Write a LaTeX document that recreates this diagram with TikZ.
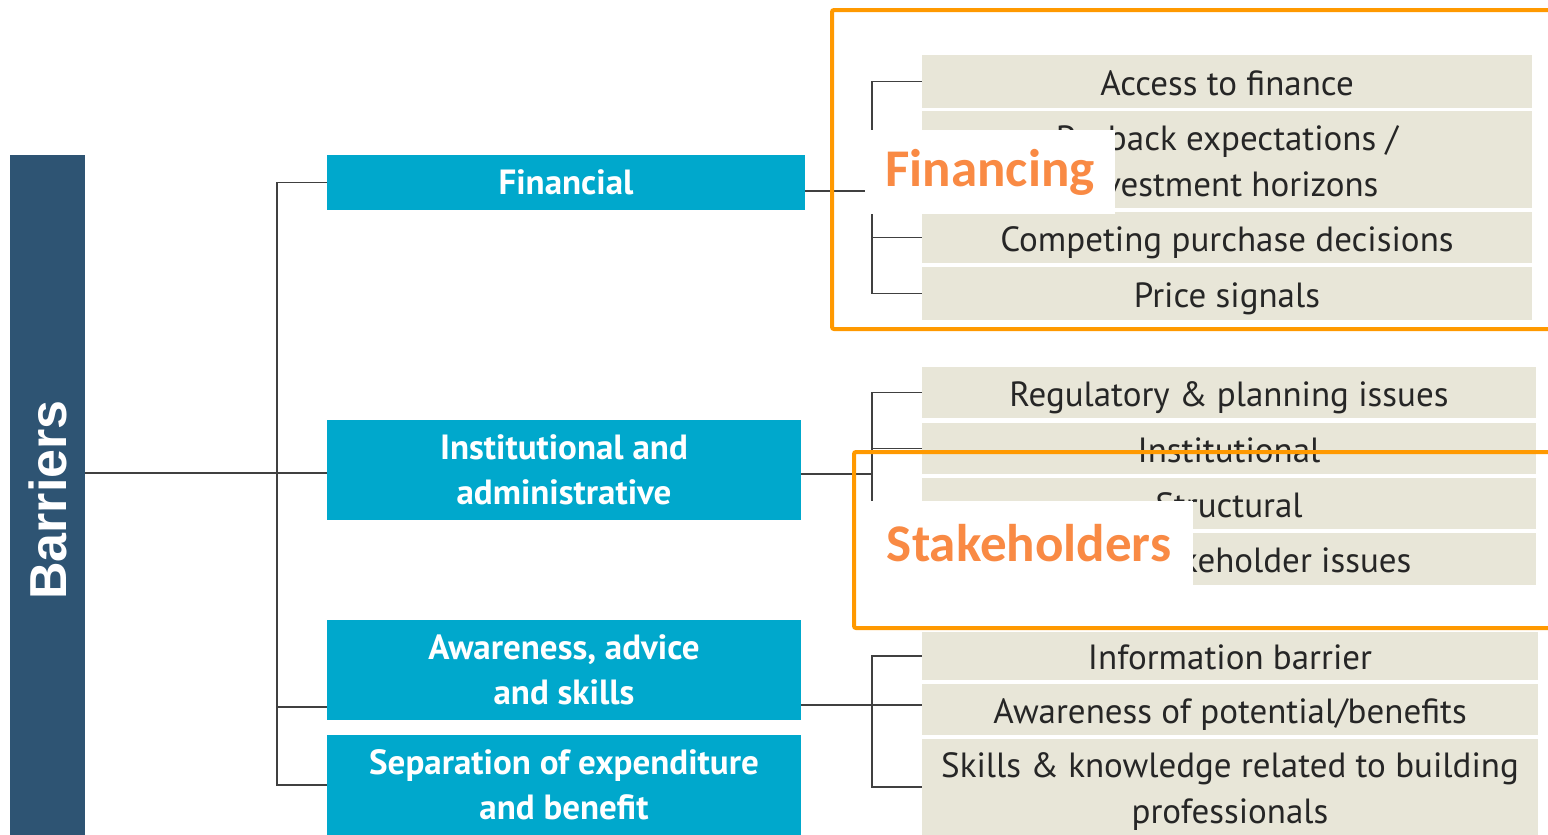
\documentclass[tikz,border=0pt]{standalone}
\usepackage{fontspec}
\usepackage{graphicx}
\newfontfamily\boxfont{PT Sans}
\newfontfamily\barfont{Liberation Sans}
\newfontfamily\tagfont{Carlito}
\definecolor{barblue}{HTML}{2E5473}
\definecolor{catcyan}{HTML}{00A8CC}
\definecolor{itembeige}{HTML}{E8E6D8}
\definecolor{frameorange}{HTML}{FF9900}
\definecolor{tagorange}{HTML}{F98A44}

\begin{document}
\begin{tikzpicture}[
  x=1pt, y=-1pt,
  barbox/.style={rectangle, fill=barblue, text=white, inner sep=0pt,
    minimum width=75pt, minimum height=690pt,
    font=\barfont\bfseries\fontsize{52}{60}\selectfont},
  catbox/.style={rectangle, fill=catcyan, text=white, inner sep=0pt, align=center,
    minimum width=474pt, minimum height=100pt,
    font=\boxfont\bfseries\fontsize{35}{45}\selectfont},
  itembase/.style={rectangle, fill=itembeige, text=black!85, inner sep=0pt, align=center,
    minimum width=610pt, minimum height=51pt,
    font=\boxfont\fontsize{35}{46}\selectfont},
  itembox/.style={itembase, text height=27pt, text depth=0pt},
  itembox2/.style={itembase, text height=73pt, text depth=0pt},
  link/.style={draw=black!75, line width=1.6pt},
  frame/.style={draw=frameorange, line width=4pt, rounded corners=2pt},
  tag/.style={rectangle, fill=white, text=tagorange, inner sep=0pt,
    minimum height=84pt, font=\tagfont\bfseries\fontsize{53}{60}\selectfont}
]
  \clip (0,0) rectangle (1548,835);

  \node[barbox] (bar) at (47.5,500) {\rotatebox{90}{Barriers}};

  \node[catbox, minimum width=478pt, minimum height=55pt] (fin) at (566,182.5) {Financial};
  \node[catbox] (inst)  at (564,470) {Institutional and\\administrative};
  \node[catbox] (aware) at (564,670) {Awareness, advice\\and skills};
  \node[catbox] (sep)   at (564,785) {Separation of expenditure\\and benefit};

  % financing items
  \node[itembox, minimum height=53pt]  (acc)   at (1227,81.5)  {Access to finance};
  \node[itembox2, minimum height=97pt] (pay)   at (1227,159.5) {Payback expectations /\\investment horizons};
  \node[itembox]                       (comp)  at (1227,237.5) {Competing purchase decisions};
  \node[itembox, minimum height=53pt]  (price) at (1227,293.5) {Price signals};

  % institutional items
  \node[itembox, minimum width=614pt] (reg)   at (1229,392.5) {Regulatory \& planning issues};
  \node[itembox, minimum width=614pt] (instn) at (1229,448.5) {Institutional};
  \node[itembox, minimum width=614pt] (struc) at (1229,503.5) {Structural};
  \node[itembox, minimum width=614pt, minimum height=52pt] (stake) at (1229,559) {Multi-stakeholder issues};

  % awareness items
  \node[itembox, minimum width=616pt, minimum height=48pt]  (info)   at (1230,656)   {Information barrier};
  \node[itembox, minimum width=616pt]                       (awp)    at (1230,709.5) {Awareness of potential/benefits};
  \node[itembox2, minimum width=616pt, minimum height=96pt] (skills) at (1230,787)   {Skills \& knowledge related to building\\professionals};

  % left tree
  \coordinate (tr) at (277,473);
  \coordinate (aj) at (277,707);
  \draw[link] (bar.east |- tr) -- (inst.west |- tr);
  \draw[link] (fin.west) -| (tr) |- (sep.west);
  \draw[link] (aj) -- (aware.west |- aj);

  % brackets
  \coordinate (fj) at (872,191);
  \draw[link] (fin.east |- fj) -- (fj);
  \draw[link] (acc.west) -| (fj) |- (price.west);
  \draw[link] (pay.west) -- (pay.west -| fj);
  \draw[link] (comp.west) -- (comp.west -| fj);

  \coordinate (ij) at (872,474);
  \draw[link] (inst.east |- ij) -- (ij);
  \draw[link] (reg.west) -| (ij) |- (stake.west);
  \draw[link] (instn.west) -- (instn.west -| ij);
  \draw[link] (struc.west) -- (struc.west -| ij);

  \coordinate (wj) at (872,705);
  \draw[link] (aware.east |- wj) -- (wj -| awp.west);
  \draw[link] (info.west) -| (wj) |- (skills.west);

  % highlight frames
  \draw[frame] (832,10) rectangle (1570,329);
  \draw[frame] (854,452) rectangle (1570,628);
  \node[tag, minimum width=250pt] (fng) at (990,172) {Financing};
  \node[tag, minimum width=328pt] (stk) at (1029,543) {Stakeholders};
\end{tikzpicture}
\end{document}
